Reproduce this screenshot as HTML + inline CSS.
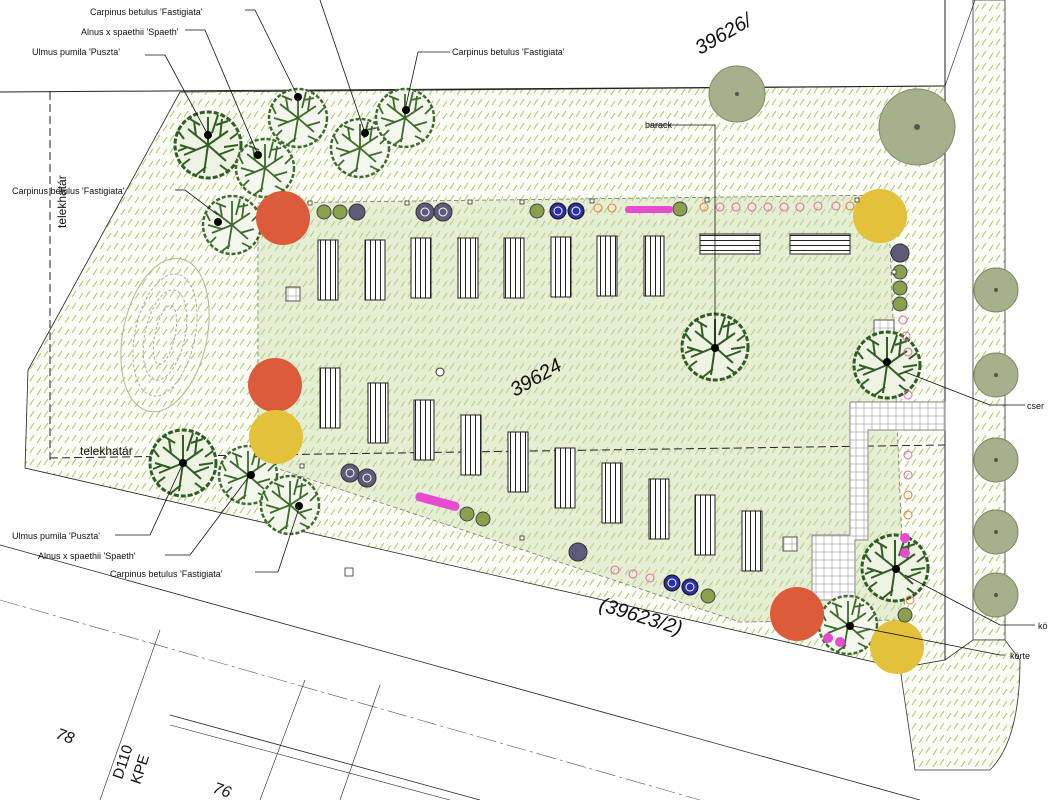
<!DOCTYPE html>
<html><head><meta charset="utf-8"><style>
body{margin:0;background:#fff}
svg{display:block}
text{font-family:"Liberation Sans",sans-serif;fill:#111}
</style></head><body>
<svg width="1048" height="800" viewBox="0 0 1048 800" xmlns="http://www.w3.org/2000/svg">
<defs>
<pattern id="h" width="14" height="12" patternUnits="userSpaceOnUse">
<rect width="14" height="12" fill="#fbfdf6"/>
<line x1="2" y1="9" x2="6" y2="3" stroke="#a8c46a" stroke-width="1"/>
<line x1="9" y1="11" x2="13" y2="5" stroke="#a8c46a" stroke-width="1"/>
</pattern>
<pattern id="h2" width="14" height="12" patternUnits="userSpaceOnUse">
<rect width="14" height="12" fill="#e6eed3"/>
<line x1="2" y1="9" x2="6" y2="3" stroke="#b6cc84" stroke-width="1"/>
<line x1="9" y1="11" x2="13" y2="5" stroke="#b6cc84" stroke-width="1"/>
</pattern>
<pattern id="g" width="8" height="8" patternUnits="userSpaceOnUse"><rect width="8" height="8" fill="#fff" stroke="#999" stroke-width="0.6"/></pattern>
<pattern id="b" width="5" height="10" patternUnits="userSpaceOnUse"><rect width="5" height="10" fill="#fff"/><line x1="0.5" y1="0" x2="0.5" y2="10" stroke="#222"/></pattern>
<pattern id="bh" width="10" height="5" patternUnits="userSpaceOnUse"><rect width="10" height="5" fill="#fff"/><line x1="0" y1="0.5" x2="10" y2="0.5" stroke="#222"/></pattern>
<g id="tree"><circle r="29" fill="#f4f7ee" stroke="#3d6b2a" stroke-width="2.5" stroke-dasharray="4 2"/><path d="M0 0L-18-14M0 0L18-12M0 0L-20 8M0 0L16 14M0 0L0-24M0 0L-4 24M-10-8L-12-20M10-7L12-22M-10 4L-24 0M8 8L22 4M-6-18L-16-22M6-18L16-20M-16 12L-22 18M10 18L18 22M20-4L26-10M-22-4L-26-12M-2 20L-10 26M4-10L8-26" stroke="#3d6b2a" stroke-width="1.8"/></g>
<g id="tree2"><circle r="33" fill="#eef3e4" stroke="#2f5e22" stroke-width="3" stroke-dasharray="5 2"/><path d="M0 0L-20-16M0 0L20-14M0 0L-24 10M0 0L18 16M0 0L0-28M0 0L-4 28M-12-9L-14-24M12-8L14-26M-12 5L-28 0M10 10L26 4M-8-20L-18-26M8-20L20-24M-18 14L-26 20M12 20L20 26M22-6L30-12M-24-6L-30-14M-2 22L-12 30M4-12L10-30M-20 2L-30 6M16 2L30 0" stroke="#2f5e22" stroke-width="2"/></g>
</defs>
<rect width="1048" height="800" fill="#fff"/>
<path d="M180 92 L945 86 L945 660 L900 668 L25 468 L28 370 Z" fill="url(#h)" stroke="#222" stroke-width="0.8"/>
<rect x="973" y="0" width="32" height="640" fill="url(#h)" stroke="#333" stroke-width="0.8"/>
<path d="M900 668 L945 660 L973 640 L1005 640 L1020 660 Q1020 740 990 770 L915 770 Z" fill="url(#h)" stroke="#333" stroke-width="0.8"/>
<path d="M258 203 L888 195 L905 620 L740 622 L258 462 Z" fill="url(#h2)" stroke="#777" stroke-width="0.8" stroke-dasharray="4 3"/>
<line x1="0" y1="92" x2="945" y2="86" stroke="#222"/>
<line x1="945" y1="0" x2="945" y2="660" stroke="#222"/>
<line x1="50" y1="92" x2="50" y2="460" stroke="#222" stroke-dasharray="8 4"/>
<line x1="50" y1="458" x2="945" y2="445" stroke="#222" stroke-dasharray="8 4"/>
<line x1="0" y1="545" x2="920" y2="800" stroke="#222" stroke-width="0.8"/>
<line x1="0" y1="600" x2="700" y2="800" stroke="#555" stroke-width="0.6" stroke-dasharray="20 4 3 4"/>
<line x1="170" y1="715" x2="480" y2="800" stroke="#222" stroke-width="0.8"/>
<line x1="170" y1="725" x2="450" y2="800" stroke="#222" stroke-width="0.6"/>
<line x1="160" y1="630" x2="100" y2="800" stroke="#222" stroke-width="0.6"/>
<line x1="305" y1="680" x2="260" y2="800" stroke="#222" stroke-width="0.6"/>
<line x1="380" y1="685" x2="340" y2="800" stroke="#222" stroke-width="0.6"/>
<line x1="945" y1="86" x2="975" y2="0" stroke="#222" stroke-width="0.6"/>
<path d="M850 402 L945 402 L945 430 L868 430 L868 540 L855 540 L855 600 L812 600 L812 535 L850 535 Z" fill="url(#g)" stroke="#888"/>
<ellipse cx="165" cy="335" rx="42" ry="78" transform="rotate(12 165 335)" fill="none" stroke="#a9bf8a"/>
<ellipse cx="165" cy="335" rx="30" ry="62" transform="rotate(12 165 335)" fill="none" stroke="#aaa" stroke-dasharray="3 2"/>
<ellipse cx="165" cy="335" rx="20" ry="46" transform="rotate(12 165 335)" fill="none" stroke="#aaa" stroke-dasharray="3 2"/>
<ellipse cx="165" cy="335" rx="10" ry="30" transform="rotate(12 165 335)" fill="none" stroke="#aaa" stroke-dasharray="3 2"/>
<g stroke="#222" stroke-width="1">
<rect x="318" y="240" width="20" height="60" fill="url(#b)"/><rect x="365" y="240" width="20" height="60" fill="url(#b)"/>
<rect x="411" y="238" width="20" height="60" fill="url(#b)"/><rect x="458" y="238" width="20" height="60" fill="url(#b)"/>
<rect x="504" y="238" width="20" height="60" fill="url(#b)"/><rect x="551" y="237" width="20" height="60" fill="url(#b)"/>
<rect x="597" y="236" width="20" height="60" fill="url(#b)"/><rect x="644" y="236" width="20" height="60" fill="url(#b)"/>
<rect x="700" y="234" width="60" height="20" fill="url(#bh)"/><rect x="790" y="234" width="60" height="20" fill="url(#bh)"/>
<rect x="320" y="368" width="20" height="60" fill="url(#b)"/><rect x="368" y="383" width="20" height="60" fill="url(#b)"/>
<rect x="414" y="400" width="20" height="60" fill="url(#b)"/><rect x="461" y="415" width="20" height="60" fill="url(#b)"/>
<rect x="508" y="432" width="20" height="60" fill="url(#b)"/><rect x="555" y="448" width="20" height="60" fill="url(#b)"/>
<rect x="602" y="463" width="20" height="60" fill="url(#b)"/><rect x="649" y="479" width="20" height="60" fill="url(#b)"/>
<rect x="695" y="495" width="20" height="60" fill="url(#b)"/><rect x="742" y="511" width="20" height="60" fill="url(#b)"/>
</g>
<rect x="286" y="287" width="14" height="14" fill="url(#g)" stroke="#555"/>
<rect x="874" y="320" width="20" height="20" fill="url(#g)" stroke="#555"/>
<rect x="783" y="537" width="14" height="14" fill="url(#g)" stroke="#555"/>
<circle cx="440" cy="372" r="4" fill="#fff" stroke="#333"/>
<use href="#tree2" x="208" y="145"/><use href="#tree" x="265" y="168"/><use href="#tree" x="298" y="118"/>
<use href="#tree" x="360" y="148"/><use href="#tree" x="405" y="118"/><use href="#tree" x="232" y="225"/>
<use href="#tree2" x="183" y="463"/><use href="#tree" x="248" y="475"/><use href="#tree" x="290" y="505"/>
<use href="#tree2" x="715" y="347"/><use href="#tree2" x="887" y="365"/><use href="#tree2" x="895" y="568"/>
<use href="#tree" x="848" y="625"/>
<g fill="#a6b08a" stroke="#7c8a62"><circle cx="737" cy="94" r="28"/><circle cx="917" cy="127" r="38"/>
<circle cx="996" cy="290" r="22"/><circle cx="996" cy="375" r="22"/><circle cx="996" cy="460" r="22"/><circle cx="996" cy="532" r="22"/><circle cx="996" cy="595" r="22"/></g>
<g fill="#555"><circle cx="737" cy="94" r="2"/><circle cx="917" cy="127" r="3"/><circle cx="996" cy="290" r="2"/><circle cx="996" cy="375" r="2"/><circle cx="996" cy="460" r="2"/><circle cx="996" cy="532" r="2"/><circle cx="996" cy="595" r="2"/></g>
<g stroke="none"><circle cx="283" cy="218" r="27" fill="#dd5a3a"/><circle cx="275" cy="385" r="27" fill="#dd5a3a"/><circle cx="276" cy="437" r="27" fill="#e3c13b"/>
<circle cx="880" cy="216" r="27" fill="#e3c13b"/><circle cx="797" cy="614" r="27" fill="#dd5a3a"/><circle cx="897" cy="647" r="27" fill="#e3c13b"/></g>
<g fill="#8ba04a" stroke="#445"><circle cx="324" cy="212" r="7"/><circle cx="340" cy="212" r="7"/><circle cx="537" cy="211" r="7"/><circle cx="680" cy="209" r="7"/>
<circle cx="900" cy="272" r="7"/><circle cx="900" cy="288" r="7"/><circle cx="900" cy="304" r="7"/><circle cx="467" cy="514" r="7"/><circle cx="483" cy="519" r="7"/><circle cx="708" cy="596" r="7"/><circle cx="905" cy="615" r="7"/></g>
<g fill="#5e5a7a" stroke="#333"><circle cx="357" cy="212" r="8"/><circle cx="425" cy="212" r="9"/><circle cx="443" cy="212" r="9"/><circle cx="900" cy="253" r="9"/><circle cx="350" cy="473" r="9"/><circle cx="367" cy="478" r="9"/><circle cx="578" cy="552" r="9"/></g>
<g fill="#2b2fa8" stroke="#111"><circle cx="558" cy="211" r="8"/><circle cx="576" cy="211" r="8"/><circle cx="672" cy="583" r="8"/><circle cx="690" cy="587" r="8"/></g>
<g fill="none" stroke="#fff" stroke-width="1"><circle cx="558" cy="211" r="4"/><circle cx="576" cy="211" r="4"/><circle cx="672" cy="583" r="4"/><circle cx="690" cy="587" r="4"/><circle cx="425" cy="212" r="4"/><circle cx="443" cy="212" r="4"/><circle cx="350" cy="473" r="4"/><circle cx="367" cy="478" r="4"/></g>
<g fill="none" stroke="#e06aa0"><circle cx="720" cy="207" r="4"/><circle cx="736" cy="207" r="4"/><circle cx="752" cy="207" r="4"/><circle cx="768" cy="207" r="4"/><circle cx="784" cy="207" r="4"/><circle cx="800" cy="207" r="4"/><circle cx="818" cy="206" r="4"/><circle cx="836" cy="206" r="4"/>
<circle cx="903" cy="320" r="4"/><circle cx="906" cy="336" r="4"/><circle cx="908" cy="352" r="4"/><circle cx="908" cy="395" r="4"/><circle cx="908" cy="455" r="4"/><circle cx="908" cy="475" r="4"/><circle cx="615" cy="570" r="4"/><circle cx="633" cy="574" r="4"/><circle cx="650" cy="578" r="4"/></g>
<g fill="none" stroke="#ee7a30"><circle cx="598" cy="208" r="4"/><circle cx="612" cy="208" r="4"/><circle cx="704" cy="207" r="4"/><circle cx="850" cy="206" r="4"/><circle cx="908" cy="495" r="4"/><circle cx="908" cy="515" r="4"/><circle cx="910" cy="600" r="4"/></g>
<g fill="#e84bd0"><rect x="625" y="206" width="48" height="7" rx="3"/><rect x="415" y="497" width="45" height="9" rx="4" transform="rotate(15 437 501)"/>
<circle cx="905" cy="538" r="5"/><circle cx="905" cy="553" r="5"/><circle cx="828" cy="638" r="5"/><circle cx="840" cy="642" r="5"/></g>
<g fill="#fff" stroke="#333" stroke-width="0.8"><rect x="308" y="201" width="4" height="4"/><rect x="405" y="201" width="4" height="4"/><rect x="468" y="200" width="4" height="4"/><rect x="520" y="200" width="4" height="4"/><rect x="590" y="199" width="4" height="4"/><rect x="705" y="198" width="4" height="4"/><rect x="855" y="198" width="4" height="4"/><rect x="892" y="270" width="4" height="4"/><rect x="300" y="464" width="4" height="4"/><rect x="520" y="536" width="4" height="4"/><rect x="345" y="568" width="8" height="8"/></g>
<g stroke="#111" fill="none" stroke-width="0.8">
<polyline points="208,135 165,55 145,55"/><polyline points="258,155 205,30 185,30"/><polyline points="298,97 255,10 245,10"/><polyline points="365,133 320,0"/>
<polyline points="405,110 418,52 450,52"/><polyline points="218,215 185,190 175,190"/><polyline points="715,348 715,125 650,125"/>
<polyline points="183,463 150,535 115,535"/><polyline points="250,475 190,555 165,555"/><polyline points="300,505 278,572 255,572"/>
<polyline points="905,372 990,405 1025,405"/><polyline points="905,575 1000,625 1035,625"/><polyline points="848,625 1000,655 1005,655"/>
</g>
<g fill="#000"><circle cx="208" cy="135" r="4"/><circle cx="258" cy="155" r="4"/><circle cx="298" cy="97" r="4"/><circle cx="365" cy="133" r="4"/><circle cx="406" cy="110" r="4"/><circle cx="218" cy="222" r="4"/><circle cx="715" cy="348" r="4"/>
<circle cx="183" cy="463" r="4"/><circle cx="251" cy="475" r="4"/><circle cx="299" cy="506" r="4"/><circle cx="887" cy="362" r="4"/><circle cx="896" cy="569" r="4"/><circle cx="850" cy="626" r="4"/></g>
<g font-size="9">
<text x="90" y="15">Carpinus betulus 'Fastigiata'</text>
<text x="81" y="35">Alnus x spaethii 'Spaeth'</text>
<text x="32" y="55">Ulmus pumila 'Puszta'</text>
<text x="452" y="55">Carpinus betulus 'Fastigiata'</text>
<text x="12" y="194">Carpinus betulus 'Fastigiata'</text>
<text x="645" y="128">barack</text>
<text x="12" y="539">Ulmus pumila 'Puszta'</text>
<text x="38" y="559">Alnus x spaethii 'Spaeth'</text>
<text x="110" y="577">Carpinus betulus 'Fastigiata'</text>
<text x="1027" y="409">cser</text>
<text x="1038" y="629">kö</text>
<text x="1010" y="659">körte</text>
</g>
<text x="80" y="455" font-size="12">telekhatár</text>
<text x="0" y="0" font-size="12" transform="translate(66 228) rotate(-90)">telekhatár</text>
<text x="0" y="0" font-size="20" font-style="italic" transform="translate(515 397) rotate(-30)">39624</text>
<text x="0" y="0" font-size="20" font-style="italic" transform="translate(598 610) rotate(17)">(39623/2)</text>
<text x="0" y="0" font-size="20" font-style="italic" transform="translate(700 55) rotate(-30)">39626/</text>
<text x="0" y="0" font-size="16" font-style="italic" transform="translate(55 738) rotate(20)">78</text>
<text x="0" y="0" font-size="16" font-style="italic" transform="translate(212 792) rotate(20)">76</text>
<text x="0" y="0" font-size="15" font-family="Liberation Serif" transform="translate(122 780) rotate(-72)">D110</text>
<text x="0" y="0" font-size="15" font-family="Liberation Serif" transform="translate(140 785) rotate(-72)">KPE</text>
</svg>
</body></html>
